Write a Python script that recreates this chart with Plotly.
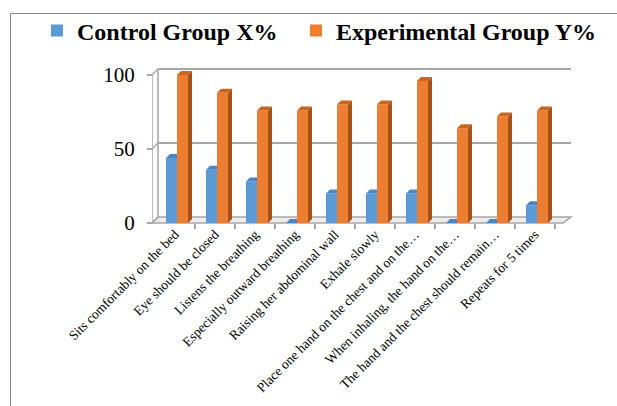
import plotly.graph_objects as go

# ---- data -------------------------------------------------------------
categories = [
    "Sits comfortably on the bed",
    "Eye should be closed",
    "Listens the breathing",
    "Especially outward breathing",
    "Raising her abdominal wall",
    "Exhale slowly",
    "Place one hand on the chest and on the…",
    "When inhaling, the hand on the…",
    "The hand and the chest should remain…",
    "Repeats for 5 times",
]
control_pct = [44, 36, 28, 0, 20, 20, 20, 0, 0, 12]
experimental_pct = [100, 88, 76, 76, 80, 80, 96, 64, 72, 76]
y_ticks = [0, 50, 100]

# ---- geometry (pixels of the 617x406 canvas) --------------------------
W, H = 617, 406
CAT0_PX, CAT_STEP_PX = 175.0, 40.0      # centre of first category, spacing
ZERO_PX, UNIT_PX = 223.0, 1.48          # y pixel of value 0, pixels per unit
AX_LEFT_PX, AX_RIGHT_PX = 152.0, 580.0  # x-axis domain in pixels
AX_TOP_PX, AX_BOT_PX = 50.0, 235.0      # y-axis domain in pixels


def px_to_x(px):
    return (px - CAT0_PX) / CAT_STEP_PX


def px_to_y(py):
    return (ZERO_PX - py) / UNIT_PX


# bar placement within a category (category units)
BLUE_OFF, ORANGE_OFF, BAR_W = -0.225, 0.05, 0.275
BAR_DX, BAR_DY = 4 / CAT_STEP_PX, 4 / UNIT_PX       # bar depth
WALL_DX, WALL_DY = 6 / CAT_STEP_PX, 6 / UNIT_PX     # chart depth
X_FRONT0 = px_to_x(AX_LEFT_PX)
X_FRONT1 = px_to_x(563)
X_BACK1 = px_to_x(571)

BLUE, ORANGE = "#5B9BD5", "#ED7D31"
BLUE_TOP = "#4A86C3"
ORANGE_TOP, ORANGE_SIDE = "#C9651F", "#A5531B"
GRID = "#A6A6A6"
FONT = "Liberation Serif"

xs = list(range(len(categories)))

fig = go.Figure()

# front faces of the bars
fig.add_trace(go.Bar(
    x=xs, y=control_pct, name="Control Group X%",
    width=BAR_W, offset=BLUE_OFF, legendwidth=214,
    marker=dict(color=BLUE, line=dict(width=0)),
))
fig.add_trace(go.Bar(
    x=xs, y=experimental_pct, name="Experimental Group Y%",
    width=BAR_W, offset=ORANGE_OFF,
    marker=dict(color=ORANGE, line=dict(width=0)),
))


def face(xp, yp, color):
    fig.add_trace(go.Scatter(
        x=xp + [xp[0]], y=yp + [yp[0]], mode="lines", fill="toself",
        fillcolor=color, line=dict(width=0, color=color),
        hoverinfo="skip", showlegend=False,
    ))


# top faces (blue) and top + side faces (orange) give the bars depth;
# the blue top is cut where the taller orange bar stands in front of it
for i, (c, e) in enumerate(zip(control_pct, experimental_pct)):
    bl, br = i + BLUE_OFF, i + BLUE_OFF + BAR_W
    if c <= e:
        face([bl, br, br, bl + BAR_DX], [c, c, c + BAR_DY, c + BAR_DY], BLUE_TOP)
    else:
        face([bl, br, br + BAR_DX, bl + BAR_DX], [c, c, c + BAR_DY, c + BAR_DY], BLUE_TOP)
    ol, orr = i + ORANGE_OFF, i + ORANGE_OFF + BAR_W
    face([orr, orr + BAR_DX, orr + BAR_DX, orr], [0, BAR_DY, e + BAR_DY, e], ORANGE_SIDE)
    face([ol, orr, orr + BAR_DX, ol + BAR_DX], [e, e, e + BAR_DY, e + BAR_DY], ORANGE_TOP)

# ---- walls, floor and axis lines --------------------------------------
shapes = []


def seg(x0, y0, x1, y1, color=GRID, width=2):
    shapes.append(dict(type="line", xref="x", yref="y", x0=x0, y0=y0,
                       x1=x1, y1=y1, layer="below",
                       line=dict(color=color, width=width)))


# floor slab
shapes.append(dict(
    type="path", xref="x", yref="y", layer="below",
    path=(f"M{X_FRONT0},0 L{X_FRONT1},0 L{X_BACK1},{WALL_DY} "
          f"L{X_FRONT0 + WALL_DX},{WALL_DY} Z"),
    fillcolor="#EDEDED", line=dict(color=GRID, width=1.5),
))
# back wall gridlines and side edge
for v in y_ticks:
    seg(X_FRONT0, v, X_FRONT0 + WALL_DX, v + WALL_DY, width=1.5)
    if v > 0:
        seg(X_FRONT0 + WALL_DX, v + WALL_DY, X_BACK1, v + WALL_DY)
seg(X_FRONT0 + WALL_DX, WALL_DY, X_FRONT0 + WALL_DX, max(y_ticks) + WALL_DY, width=1.5)
# front value axis
seg(X_FRONT0, 0, X_FRONT0, max(y_ticks), width=1.5)

# outer chart border
shapes.append(dict(type="rect", xref="paper", yref="paper",
                   x0=10.5 / W, x1=1.2, y0=-0.2, y1=1 - 13.5 / H,
                   line=dict(color="#8C8C8C", width=1)))

fig.update_layout(
    width=W, height=H,
    margin=dict(l=0, r=0, t=0, b=0, autoexpand=False),
    paper_bgcolor="white", plot_bgcolor="rgba(0,0,0,0)",
    barmode="overlay",
    shapes=shapes,
    showlegend=True,
    legend=dict(
        orientation="h", x=37 / W, xanchor="left",
        y=1 - 31 / H, yanchor="middle",
        font=dict(family=FONT, size=24, color="black", weight="bold"),
        traceorder="normal",
        bgcolor="rgba(0,0,0,0)",
    ),
    xaxis=dict(
        domain=[AX_LEFT_PX / W, AX_RIGHT_PX / W],
        range=[px_to_x(AX_LEFT_PX), px_to_x(AX_RIGHT_PX)],
        anchor="free", position=(H - ZERO_PX) / H,
        tickmode="array", tickvals=xs, ticktext=categories,
        tickangle=-45, ticks="", showgrid=False, zeroline=False,
        showline=False,
        tickfont=dict(family=FONT, size=13.5, color="black"),
        minor=dict(tickmode="array", tickvals=[i + 0.5 for i in xs],
                   ticks="outside", ticklen=5, tickcolor=GRID, tickwidth=1.5,
                   showgrid=False),
        fixedrange=True,
    ),
    yaxis=dict(
        domain=[(H - AX_BOT_PX) / H, (H - AX_TOP_PX) / H],
        range=[px_to_y(AX_BOT_PX), px_to_y(AX_TOP_PX)],
        anchor="free", position=AX_LEFT_PX / W,
        tickmode="array", tickvals=y_ticks,
        ticks="outside", ticklen=5, tickcolor=GRID, tickwidth=1.5,
        ticklabelstandoff=8,
        showgrid=False, zeroline=False, showline=False,
        tickfont=dict(family=FONT, size=21, color="black"),
        fixedrange=True,
    ),
)

fig.write_html("out.html")
